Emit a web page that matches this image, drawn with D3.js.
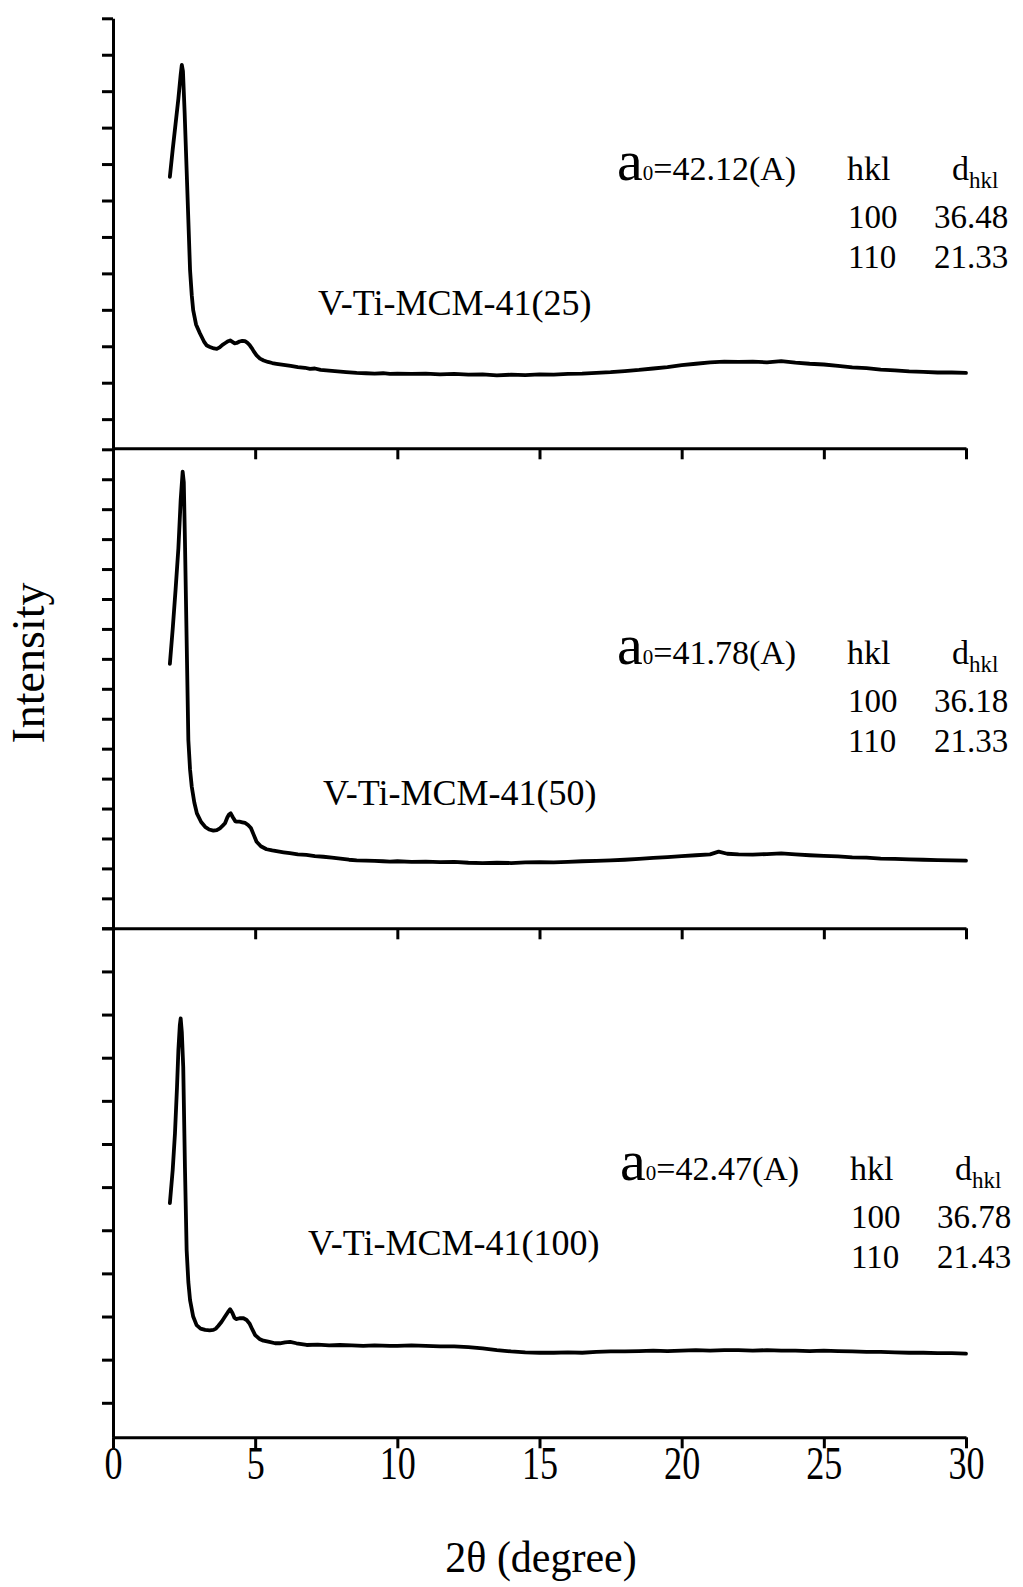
<!DOCTYPE html>
<html>
<head>
<meta charset="utf-8">
<script src="https://cdn.jsdelivr.net/npm/d3@7"></script>
<style>
  body { margin: 0; background: #fff; }
  svg { display: block; }
  text { font-family: "Liberation Serif", "Times New Roman", serif; fill: #000; }
</style>
</head>
<body>
<svg id="chart" width="1023" height="1587"></svg>
<script>
// ---- data -------------------------------------------------------------
const xTicks = [0, 5, 10, 15, 20, 25, 30];
const yTicksShort = [0, 1, 2, 3, 4, 5, 6, 7, 8, 9, 10, 11];
const yTicksTall = [0, 1, 2, 3, 4, 5, 6, 7, 8, 9, 10, 11, 12, 13, 14, 15, 16];

const sampleNames = ["V-Ti-MCM-41(25)", "V-Ti-MCM-41(50)", "V-Ti-MCM-41(100)"];
const latticeA0 = ["42.12", "41.78", "42.47"];
const hklPlanes = ["100", "110"];
const dSpacing25 = ["36.48", "21.33"];
const dSpacing50 = ["36.18", "21.33"];
const dSpacing100 = ["36.78", "21.43"];

// XRD pattern, V-Ti-MCM-41(25): 2θ (deg) and intensity (a.u.)
const angle25 = [2.00, 2.10, 2.20, 2.30, 2.38, 2.42, 2.46, 2.52, 2.59, 2.65, 2.71, 2.77, 2.82, 2.92, 3.06,
  3.20, 3.30, 3.41, 3.55, 3.65, 3.75, 3.85, 3.95, 4.05, 4.12, 4.20, 4.28, 4.35, 4.45, 4.55, 4.64, 4.72,
  4.80, 4.88, 4.95, 5.05, 5.17, 5.30, 5.45, 5.60, 5.75, 6.00, 6.25, 6.50, 6.75, 6.93, 7.10, 7.30, 7.60,
  7.90, 8.20, 8.57, 8.90, 9.20, 9.50, 9.74, 10.0, 10.5, 11.0, 11.5, 12.0, 12.5, 13.0, 13.5, 14.0, 14.5,
  15.0, 15.5, 16.0, 16.5, 17.0, 17.5, 18.0, 18.5, 19.0, 19.5, 20.0, 20.5, 21.0, 21.5, 22.0, 22.5, 23.0,
  23.5, 24.0, 24.5, 25.0, 25.5, 26.0, 26.5, 27.0, 27.5, 28.0, 28.5, 29.0, 29.5, 30.0];
const counts25 = [6.65, 7.40, 8.10, 8.80, 9.45, 9.72, 9.55, 8.40, 6.83, 5.46, 4.09, 3.40, 2.99, 2.60, 2.35,
  2.13, 2.02, 1.98, 1.94, 1.93, 1.97, 2.04, 2.09, 2.14, 2.16, 2.12, 2.08, 2.09, 2.13, 2.15, 2.14, 2.10,
  2.04, 1.95, 1.86, 1.75, 1.66, 1.61, 1.57, 1.54, 1.52, 1.49, 1.46, 1.43, 1.41, 1.38, 1.39, 1.35, 1.33,
  1.31, 1.29, 1.27, 1.26, 1.25, 1.26, 1.24, 1.25, 1.24, 1.25, 1.23, 1.24, 1.22, 1.23, 1.20, 1.22, 1.21,
  1.23, 1.22, 1.24, 1.25, 1.27, 1.29, 1.32, 1.35, 1.39, 1.43, 1.48, 1.52, 1.56, 1.58, 1.57, 1.58, 1.56,
  1.59, 1.55, 1.52, 1.50, 1.46, 1.42, 1.40, 1.36, 1.34, 1.31, 1.30, 1.28, 1.28, 1.27];

// XRD pattern, V-Ti-MCM-41(50)
const angle50 = [2.00, 2.10, 2.20, 2.30, 2.38, 2.45, 2.49, 2.53, 2.59, 2.65, 2.71, 2.77, 2.86, 2.95, 3.10,
  3.24, 3.38, 3.53, 3.65, 3.76, 3.85, 3.94, 4.02, 4.08, 4.14, 4.22, 4.30, 4.35, 4.45, 4.55, 4.65, 4.75,
  4.85, 4.95, 5.05, 5.20, 5.40, 5.60, 5.80, 6.00, 6.22, 6.50, 6.80, 7.10, 7.40, 7.70, 8.00, 8.30, 8.57,
  8.90, 9.20, 9.50, 9.74, 10.0, 10.5, 11.0, 11.5, 12.0, 12.5, 13.0, 13.5, 14.0, 14.5, 15.0, 15.5, 16.0,
  16.5, 17.0, 17.5, 18.0, 18.5, 19.0, 19.5, 20.0, 20.5, 21.0, 21.3, 21.6, 22.0, 22.5, 23.0, 23.5, 24.0,
  24.5, 25.0, 25.5, 26.0, 26.5, 27.0, 27.5, 28.0, 28.5, 29.0, 29.5, 30.0];
const counts50 = [8.83, 10.0, 11.3, 12.7, 14.3, 15.25, 14.9, 12.97, 9.63, 6.29, 5.30, 4.73, 4.20, 3.84, 3.55,
  3.39, 3.30, 3.26, 3.28, 3.34, 3.42, 3.51, 3.70, 3.80, 3.84, 3.70, 3.58, 3.56, 3.56, 3.54, 3.52, 3.45,
  3.35, 3.12, 2.89, 2.74, 2.64, 2.60, 2.57, 2.54, 2.51, 2.47, 2.45, 2.41, 2.39, 2.36, 2.33, 2.29, 2.27,
  2.26, 2.25, 2.24, 2.23, 2.24, 2.22, 2.23, 2.21, 2.22, 2.19, 2.18, 2.19, 2.18, 2.20, 2.21, 2.20, 2.22,
  2.24, 2.25, 2.27, 2.29, 2.32, 2.35, 2.38, 2.41, 2.44, 2.47, 2.56, 2.49, 2.47, 2.46, 2.48, 2.50, 2.47,
  2.44, 2.42, 2.40, 2.37, 2.36, 2.33, 2.32, 2.30, 2.29, 2.28, 2.27, 2.26];

// XRD pattern, V-Ti-MCM-41(100)
const angle100 = [2.00, 2.10, 2.18, 2.25, 2.30, 2.35, 2.38, 2.42, 2.47, 2.53, 2.59, 2.65, 2.71, 2.82, 2.94,
  3.08, 3.24, 3.40, 3.53, 3.62, 3.70, 3.82, 3.94, 4.04, 4.12, 4.20, 4.27, 4.33, 4.45, 4.59, 4.70, 4.80,
  4.90, 5.00, 5.15, 5.29, 5.50, 5.70, 5.87, 6.05, 6.23, 6.45, 6.81, 7.20, 7.60, 7.98, 8.40, 8.80, 9.20,
  9.74, 10.0, 10.5, 11.0, 11.5, 12.0, 12.5, 13.0, 13.5, 14.0, 14.5, 15.0, 15.5, 16.0, 16.5, 17.0, 17.5,
  18.0, 18.5, 19.0, 19.5, 20.0, 20.5, 21.0, 21.5, 22.0, 22.5, 23.0, 23.5, 24.0, 24.5, 25.0, 25.5, 26.0,
  26.5, 27.0, 27.5, 28.0, 28.5, 29.0, 29.5, 30.0];
const counts100 = [4.63, 5.40, 6.25, 7.30, 8.18, 8.75, 8.91, 8.60, 7.79, 5.47, 3.54, 2.80, 2.38, 2.00, 1.80,
  1.72, 1.69, 1.68, 1.69, 1.72, 1.78, 1.88, 2.00, 2.10, 2.17, 2.08, 1.97, 1.94, 1.96, 1.96, 1.92, 1.84,
  1.70, 1.57, 1.48, 1.44, 1.41, 1.38, 1.38, 1.40, 1.41, 1.38, 1.34, 1.35, 1.33, 1.34, 1.33, 1.32, 1.33,
  1.32, 1.32, 1.33, 1.32, 1.31, 1.31, 1.29, 1.26, 1.22, 1.19, 1.17, 1.16, 1.16, 1.17, 1.16, 1.18, 1.19,
  1.19, 1.20, 1.21, 1.20, 1.21, 1.22, 1.21, 1.22, 1.22, 1.21, 1.22, 1.21, 1.21, 1.20, 1.21, 1.20, 1.19,
  1.18, 1.18, 1.17, 1.16, 1.16, 1.15, 1.15, 1.14];

// ---- layout -----------------------------------------------------------
const svg = d3.select("#chart");
const x = d3.scaleLinear().domain([0, 30]).range([113, 966]);

const panels = [
  { angle: angle25, counts: counts25, yDomain: [-0.8, 11], yRange: [448.3, 18.3], yTicks: yTicksShort,
    name: sampleNames[0], a0: latticeA0[0], d: dSpacing25, nameAt: [318, 315], noteX: 617, noteY: 180 },
  { angle: angle50, counts: counts50, yDomain: [0, 16], yRange: [928.3, 449.3], yTicks: yTicksTall,
    name: sampleNames[1], a0: latticeA0[1], d: dSpacing50, nameAt: [323, 805], noteX: 617, noteY: 664 },
  { angle: angle100, counts: counts100, yDomain: [-0.8, 11], yRange: [1437.3, 928.3], yTicks: yTicksShort,
    name: sampleNames[2], a0: latticeA0[2], d: dSpacing100, nameAt: [308, 1255], noteX: 620, noteY: 1180 }
];

panels.forEach((p, i) => {
  const y = d3.scaleLinear().domain(p.yDomain).range(p.yRange);
  const g = svg.append("g");
  const isLast = i === panels.length - 1;

  // pattern trace
  const pts = p.angle.map((a, k) => [a, p.counts[k]]);
  g.append("path")
    .datum(pts)
    .attr("fill", "none")
    .attr("stroke", "#000")
    .attr("stroke-width", 3.8)
    .attr("stroke-linejoin", "round")
    .attr("stroke-linecap", "round")
    .attr("d", d3.line().x(d => x(d[0])).y(d => y(d[1])));

  // left intensity axis (unlabelled major ticks)
  const ya = g.append("g")
    .attr("transform", `translate(${x(0)},0)`)
    .call(d3.axisLeft(y).tickValues(p.yTicks).tickSize(11).tickSizeOuter(0).tickFormat(""));

  // bottom 2θ axis
  const xa = g.append("g")
    .attr("transform", `translate(0,${p.yRange[0]})`)
    .call(d3.axisBottom(x).tickValues(xTicks).tickSize(11).tickSizeOuter(0)
      .tickFormat(isLast ? d3.format("d") : ""));

  [ya, xa].forEach(ax => {
    ax.select(".domain").attr("stroke", "#000").attr("stroke-width", 3);
    ax.selectAll(".tick line").attr("stroke", "#000").attr("stroke-width", 3);
  });
  // tick numerals are set in a tall, narrow cut
  xa.selectAll(".tick text")
    .attr("y", 0)
    .attr("dy", 0)
    .attr("transform", "translate(0," + (1479 - p.yRange[0]) + ") scale(0.86,1.12)")
    .style("font-family", '"Liberation Serif", serif')
    .style("font-size", "42px")
    .attr("fill", "#000");

  // sample name
  g.append("text")
    .attr("x", p.nameAt[0]).attr("y", p.nameAt[1])
    .style("font-size", "36px")
    .text(p.name);

  // lattice parameter and d-spacing table
  const a0 = g.append("text").attr("x", p.noteX).attr("y", p.noteY);
  a0.append("tspan").style("font-size", "58px").text("a");
  a0.append("tspan").style("font-size", "21px").text("0");
  a0.append("tspan").style("font-size", "34px").text("=" + p.a0 + "(A)");

  const colH = p.noteX + 230, colD = p.noteX + 317;
  g.append("text").attr("x", colH).attr("y", p.noteY).style("font-size", "34px").text("hkl");
  const dh = g.append("text").attr("x", colD + 18).attr("y", p.noteY).style("font-size", "34px");
  dh.append("tspan").text("d");
  dh.append("tspan").attr("dy", 8).style("font-size", "23px").text("hkl");

  hklPlanes.forEach((h, r) => {
    const yy = p.noteY + 48 + r * 40;
    g.append("text").attr("x", colH + 1).attr("y", yy).style("font-size", "33px").text(h);
    g.append("text").attr("x", colD).attr("y", yy).style("font-size", "33px").text(p.d[r]);
  });
});

// axis titles
svg.append("text")
  .attr("transform", "translate(541,1572) scale(1,1.05)")
  .attr("text-anchor", "middle")
  .style("font-size", "42px")
  .text("2θ (degree)");

svg.append("text")
  .attr("transform", "translate(44,663) rotate(-90)")
  .attr("text-anchor", "middle")
  .style("font-size", "46px")
  .text("Intensity");
</script>
</body>
</html>
